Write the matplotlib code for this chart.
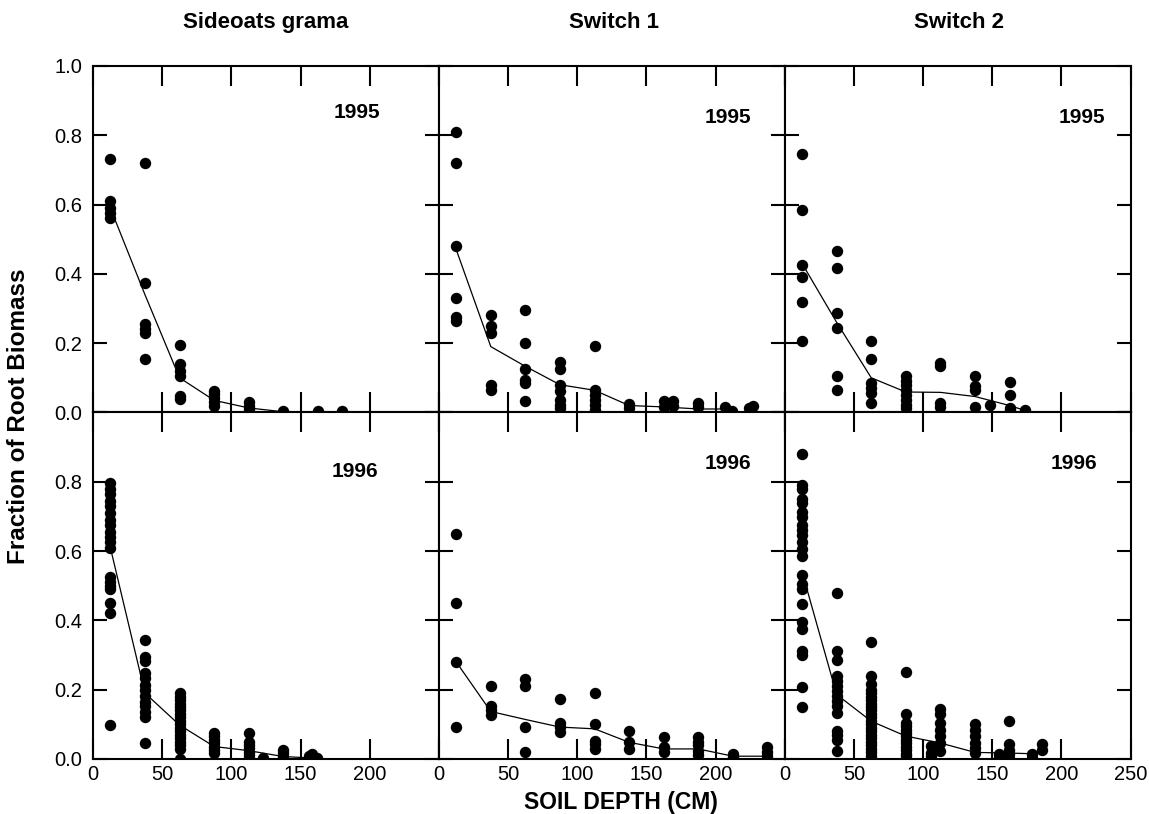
import numpy as np
import matplotlib
matplotlib.use("Agg")
import matplotlib.pyplot as plt

plt.rcParams['font.family'] = ['Liberation Sans', 'DejaVu Sans']

# sampling depths (cm) and root biomass fractions read per depth group
sg95_x = [12.5, 37.5, 62.5, 87.5, 112.5, 137.5, 162.5, 180]
sg95_y = [[0.73, 0.61, 0.59, 0.575, 0.56],
          [0.72, 0.375, 0.255, 0.24, 0.23, 0.155],
          [0.195, 0.14, 0.12, 0.105, 0.048, 0.04],
          [0.063, 0.053, 0.043, 0.03, 0.02],
          [0.03, 0.02, 0.01],
          [0.004], [0.003], [0.004]]
sg95_mx = [12.5, 37.5, 62.5, 87.5, 112.5, 137.5]
sg95_my = [0.59, 0.34, 0.10, 0.035, 0.013, 0.002]

sw1_95_x = [12.5, 37.5, 62.5, 87.5, 112.5, 137.5, 162.5, 169, 187.5, 207, 212, 224, 227]
sw1_95_y = [[0.81, 0.72, 0.48, 0.33, 0.275, 0.265],
            [0.28, 0.25, 0.23, 0.08, 0.066],
            [0.295, 0.2, 0.125, 0.095, 0.085, 0.032],
            [0.146, 0.124, 0.08, 0.063, 0.037, 0.022, 0.013],
            [0.192, 0.066, 0.051, 0.037, 0.022, 0.008],
            [0.024, 0.013],
            [0.032, 0.017], [0.032, 0.02],
            [0.027, 0.015],
            [0.017], [0.005], [0.013], [0.02]]
sw1_95_mx = [12.5, 37.5, 62.5, 87.5, 112.5, 137.5, 162.5, 187.5, 212.5]
sw1_95_my = [0.47, 0.19, 0.133, 0.08, 0.064, 0.02, 0.016, 0.01, 0.01]

sw2_95_x = [12.5, 37.5, 62.5, 87.5, 112.5, 137.5, 148, 162.5, 174]
sw2_95_y = [[0.745, 0.585, 0.425, 0.39, 0.32, 0.205],
            [0.465, 0.417, 0.287, 0.243, 0.105, 0.064],
            [0.206, 0.153, 0.085, 0.071, 0.056, 0.027],
            [0.105, 0.09, 0.08, 0.065, 0.051, 0.037, 0.022, 0.013],
            [0.143, 0.134, 0.027, 0.015],
            [0.105, 0.076, 0.066, 0.015],
            [0.022],
            [0.087, 0.051, 0.013, 0.006],
            [0.006]]
sw2_95_mx = [12.5, 37.5, 62.5, 87.5, 112.5, 137.5, 162.5, 175]
sw2_95_my = [0.43, 0.26, 0.10, 0.059, 0.058, 0.046, 0.02, 0.004]

sg96_x = [12.5, 37.5, 62.5, 87.5, 112.5, 122.5, 137.5, 156, 158, 162]
sg96_y = [[0.795, 0.78, 0.765, 0.745, 0.73, 0.71, 0.69, 0.675, 0.655, 0.64,
           0.625, 0.61, 0.525, 0.51, 0.5, 0.49, 0.45, 0.42, 0.097],
          [0.343, 0.293, 0.284, 0.247, 0.233, 0.213, 0.2, 0.182, 0.165,
           0.153, 0.137, 0.122, 0.045],
          [0.19, 0.18, 0.17, 0.16, 0.15, 0.14, 0.13, 0.12, 0.11, 0.1, 0.09,
           0.08, 0.07, 0.06, 0.05, 0.04, 0.03, 0.0],
          [0.074, 0.065, 0.055, 0.045, 0.035, 0.025, 0.016],
          [0.074, 0.05, 0.04, 0.031, 0.021, 0.012, 0.002],
          [0.003],
          [0.026, 0.016, 0.007],
          [0.008], [0.015], [0.004]]
sg96_mx = [12.5, 37.5, 62.5, 87.5, 112.5, 137.5, 162.5]
sg96_my = [0.61, 0.19, 0.098, 0.036, 0.024, 0.007, 0.002]

sw1_96_x = [12.5, 37.5, 62.5, 87.5, 112.5, 137.5, 162.5, 187.5, 212.5, 237.5]
sw1_96_y = [[0.649, 0.449, 0.28, 0.092],
            [0.21, 0.153, 0.14, 0.128],
            [0.232, 0.21, 0.092, 0.019],
            [0.172, 0.104, 0.092, 0.079],
            [0.19, 0.101, 0.053, 0.043, 0.029],
            [0.082, 0.048, 0.029],
            [0.063, 0.034, 0.021],
            [0.063, 0.048, 0.039, 0.024, 0.012],
            [0.014, 0.005, 0.0],
            [0.034, 0.019, 0.01, 0.0]]
sw1_96_mx = [12.5, 37.5, 62.5, 87.5, 112.5, 137.5, 162.5, 187.5, 212.5, 237.5]
sw1_96_my = [0.28, 0.137, 0.114, 0.092, 0.087, 0.048, 0.029, 0.029, 0.008, 0.008]

sw2_96_x = [12.5, 37.5, 62.5, 87.5, 106, 112, 137.5, 155, 162, 179, 186]
sw2_96_y = [[0.88, 0.792, 0.78, 0.75, 0.74, 0.713, 0.698, 0.674, 0.66, 0.645,
             0.626, 0.607, 0.587, 0.53, 0.505, 0.49, 0.447, 0.394, 0.375,
             0.312, 0.3, 0.209, 0.151],
            [0.479, 0.312, 0.286, 0.24, 0.225, 0.21, 0.196, 0.182, 0.167,
             0.153, 0.133, 0.08, 0.068, 0.056, 0.022],
            [0.339, 0.24, 0.215, 0.2, 0.19, 0.18, 0.17, 0.16, 0.15, 0.14,
             0.13, 0.12, 0.11, 0.1, 0.09, 0.08, 0.07, 0.06, 0.05, 0.04,
             0.03, 0.02, 0.01, 0.0],
            [0.251, 0.13, 0.104, 0.095, 0.085, 0.075, 0.065, 0.055, 0.045,
             0.035, 0.025, 0.015, 0.008],
            [0.008, 0.017, 0.037],
            [0.143, 0.129, 0.104, 0.085, 0.066, 0.046, 0.022],
            [0.1, 0.085, 0.066, 0.046, 0.032, 0.017],
            [0.003, 0.013],
            [0.111, 0.042, 0.027, 0.013, 0.003],
            [0.003, 0.013],
            [0.042, 0.027]]
sw2_96_mx = [12.5, 37.5, 62.5, 87.5, 112.5, 137.5, 162.5, 180, 187.5]
sw2_96_my = [0.54, 0.186, 0.109, 0.066, 0.046, 0.019, 0.017, 0.015, 0.03]

titles = ["Sideoats grama", "Switch 1", "Switch 2"]
years = ["1995", "1996"]
year_pos = [[(191, 0.865), (209, 0.85), (215, 0.85)],
            [(189, 0.83), (209, 0.853), (209, 0.853)]]

panels = [[(sg95_x, sg95_y, sg95_mx, sg95_my),
           (sw1_95_x, sw1_95_y, sw1_95_mx, sw1_95_my),
           (sw2_95_x, sw2_95_y, sw2_95_mx, sw2_95_my)],
          [(sg96_x, sg96_y, sg96_mx, sg96_my),
           (sw1_96_x, sw1_96_y, sw1_96_mx, sw1_96_my),
           (sw2_96_x, sw2_96_y, sw2_96_mx, sw2_96_my)]]

fig = plt.figure(figsize=(11.49, 8.14), dpi=100)
gs = fig.add_gridspec(2, 3, left=0.081, right=0.984, top=0.919, bottom=0.0676,
                      wspace=0, hspace=0)

xt = [0, 50, 100, 150, 200, 250]
yt = [0.0, 0.2, 0.4, 0.6, 0.8, 1.0]

for r in range(2):
    for c in range(3):
        ax = fig.add_subplot(gs[r, c])
        px, py, mx, my = panels[r][c]
        xs = np.concatenate([[d] * len(v) for d, v in zip(px, py)])
        ys = np.concatenate(py)
        ax.plot(mx, my, color='black', lw=0.9, zorder=2)
        ax.plot(xs, ys, 'o', color='black', ms=7.2, mec='black', zorder=3)
        ax.set_xlim(0, 250)
        ax.set_ylim(0, 1.0)
        ax.set_xticks(xt)
        ax.set_yticks(yt)
        if r == 1:
            lab = ['0', '50', '100', '150', '200', '250' if c == 2 else '']
            ax.set_xticklabels(lab)
        else:
            ax.set_xticklabels([])
        if c == 0:
            if r == 0:
                ax.set_yticklabels(['0.0', '0.2', '0.4', '0.6', '0.8', '1.0'])
            else:
                ax.set_yticklabels(['0.0', '0.2', '0.4', '0.6', '0.8', ''])
        else:
            ax.set_yticklabels([])
        ax.tick_params(axis='x', direction='in', top=True, bottom=True,
                       length=14.5, width=1.5, labelsize=14.5, pad=4)
        ax.tick_params(axis='y', direction='in', left=True, right=True,
                       length=10, width=1.5, labelsize=14.5, pad=8)
        for s in ax.spines.values():
            s.set_linewidth(1.5)
        yx, yy = year_pos[r][c]
        ax.text(yx, yy, years[r], ha='center', va='center',
                fontsize=15, fontweight='bold')

col_cx = [0.231, 0.534, 0.835]
for t, cx in zip(titles, col_cx):
    fig.text(cx, 0.972, t, ha='center', va='center', fontsize=16,
             fontweight='bold')

fig.text(0.0157, 0.489, "Fraction of Root Biomass", rotation=90,
         ha='center', va='center', fontsize=17.5, fontweight='bold')
fig.text(0.54, 0.0147, "SOIL DEPTH (CM)", ha='center', va='center',
         fontsize=16.5, fontweight='bold')

fig.savefig("out.png", dpi=100)
